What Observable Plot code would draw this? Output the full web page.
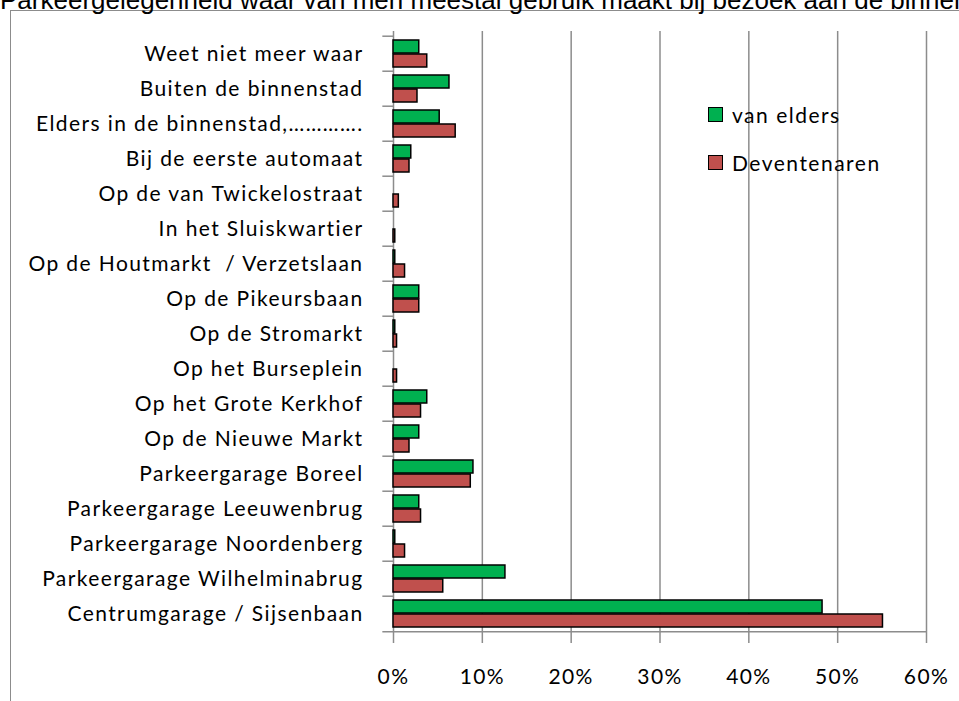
<!DOCTYPE html>
<html>
<head>
<meta charset="utf-8">
<script src="https://cdn.jsdelivr.net/npm/d3@7"></script>
<script src="https://cdn.jsdelivr.net/npm/@observablehq/plot@0.6"></script>
<style>
  html, body { margin: 0; padding: 0; background: #fff; overflow: hidden; }
  #wrap { position: relative; width: 959px; height: 701px; overflow: hidden; }
  #title { position: absolute; left: 0; top: -13px; white-space: nowrap;
    font-family: "Liberation Sans", Arial, sans-serif; font-size: 26px; line-height: 26px; color: #000; }
  #frame { position: absolute; left: 10px; top: 10px; width: 1000px; height: 800px;
    border-left: 1.5px solid #8c8c8c; border-top: 1.5px solid #8c8c8c; }
  #chart { position: absolute; left: 0; top: 0; }
  #legend { position: absolute; left: 708px; top: 102px; font-family: Lato, sans-serif; font-size: 21px; letter-spacing: 1.5px; color: #000; }
  .item { display: flex; align-items: center; height: 24px; margin-bottom: 24px; }
  .sw { width: 13px; height: 13px; border: 1.5px solid #000; margin-right: 9px; }
</style>
</head>
<body>
<div id="wrap">
  <div id="frame"></div>
  <div id="title">Parkeergelegenheid waar van men meestal gebruik maakt bij bezoek aan de binnenstad</div>
  <div id="chart"></div>
  <div id="legend"></div>
</div>
<script>
const categories = [
  "Weet niet meer waar",
  "Buiten de binnenstad",
  "Elders in de binnenstad,………….",
  "Bij de eerste automaat",
  "Op de van Twickelostraat",
  "In het Sluiskwartier",
  "Op de Houtmarkt  / Verzetslaan",
  "Op de Pikeursbaan",
  "Op de Stromarkt",
  "Op het Burseplein",
  "Op het Grote Kerkhof",
  "Op de Nieuwe Markt",
  "Parkeergarage Boreel",
  "Parkeergarage Leeuwenbrug",
  "Parkeergarage Noordenberg",
  "Parkeergarage Wilhelminabrug",
  "Centrumgarage / Sijsenbaan"
];
const vanElders = [2.9, 6.3, 5.2, 2.0, 0, 0, 0.2, 2.9, 0.2, 0, 3.8, 2.9, 9.0, 2.9, 0.2, 12.6, 48.3];
const deventenaren = [3.8, 2.7, 7.0, 1.8, 0.6, 0.2, 1.3, 2.9, 0.4, 0.4, 3.1, 1.8, 8.7, 3.1, 1.3, 5.6, 55.1];
const seriesNames = ["van elders", "Deventenaren"];
const seriesColors = ["#00B050", "#C0504D"];
const xTicks = [0, 10, 20, 30, 40, 50, 60];

const rowsGreen = categories.map((c, i) => ({cat: c, value: vanElders[i]}));
const rowsRed = categories.map((c, i) => ({cat: c, value: deventenaren[i]}));

const W = 959, H = 701;
const mL = 393, mR = 33, mT = 31, mB = 65;
const bw = (H - mT - mB) / categories.length;
const font = "Lato, sans-serif";
const grey = "#8c8c8c";

const chart = Plot.plot({
  width: W, height: H,
  marginLeft: mL, marginRight: mR, marginTop: mT, marginBottom: mB,
  style: {fontFamily: font, fontSize: "21px", color: "#000", background: "transparent", letterSpacing: "1.4px"},
  x: {domain: [0, 60], label: null},
  y: {domain: categories, padding: 0, label: null},
  marks: [
    Plot.ruleX(xTicks.slice(1), {stroke: grey, strokeWidth: 1.5}),
    Plot.ruleX([0], {stroke: grey, strokeWidth: 1.5}),
    Plot.ruleY(categories, {x1: -1.2, x2: 0, dy: -bw / 2, stroke: grey, strokeWidth: 1.5}),
    Plot.ruleY(categories.slice(-1), {x1: -1.2, x2: 60, dy: bw / 2, stroke: grey, strokeWidth: 1.5}),
    Plot.barX(rowsGreen.filter(d => d.value > 0), {x: "value", y: "cat", fill: seriesColors[0], stroke: "#000", strokeWidth: 1.5, insetTop: 4, insetBottom: 18}),
    Plot.barX(rowsRed.filter(d => d.value > 0), {x: "value", y: "cat", fill: seriesColors[1], stroke: "#000", strokeWidth: 1.5, insetTop: 18, insetBottom: 4}),
    Plot.axisX(xTicks, {tickSize: 7, tickPadding: 26, stroke: grey, strokeWidth: 1.5, tickFormat: d => d + "%", fontSize: 21, fill: "#000", label: null}),
    Plot.axisY({tickSize: 0, tickPadding: 30, fontSize: 21, fill: "#000", label: null})
  ]
});
document.getElementById("chart").appendChild(chart);

const legend = document.getElementById("legend");
seriesNames.forEach((n, i) => {
  const item = document.createElement("div");
  item.className = "item";
  const sw = document.createElement("div");
  sw.className = "sw";
  sw.style.background = seriesColors[i];
  item.appendChild(sw);
  const t = document.createElement("span");
  t.textContent = n;
  item.appendChild(t);
  legend.appendChild(item);
});
</script>
</body>
</html>
